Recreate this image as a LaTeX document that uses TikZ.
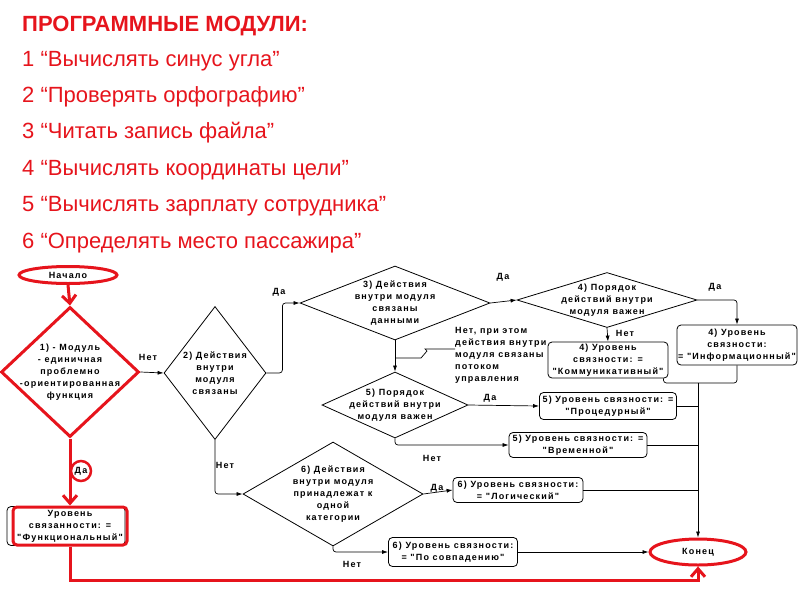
\documentclass[tikz,border=0pt]{standalone}
\usepackage{fontspec}
\setmainfont{Liberation Sans}
\newfontfamily\diafont[LetterSpace=13]{Liberation Sans}
\usetikzlibrary{shapes.geometric,arrows.meta}

\definecolor{modred}{RGB}{230,20,28}

\tikzset{
  dfont/.style={font=\diafont\bfseries\fontsize{9}{12}\selectfont},
  dia/.style={draw, shape=diamond, line width=0.8pt, inner sep=0pt},
  diatext/.style={dfont, align=center},
  resbox/.style={draw, rounded corners=4pt, line width=0.8pt, dfont, align=center, inner sep=1pt},
  term/.style={draw=modred, ellipse, line width=3pt, dfont, inner sep=0pt},
  line/.style={line width=0.7pt, rounded corners=3pt},
  arr/.style={line, -{Latex[length=6pt,width=4pt]}},
  redarr/.style={draw=modred, line width=3pt, -{Straight Barb[length=8pt,width=14pt]}},
  lbl/.style={dfont, inner sep=1pt},
  item/.style={anchor=base west, text=modred, font=\fontsize{22}{26}\selectfont, inner sep=0pt}
}

\begin{document}
\begin{tikzpicture}[x=1pt, y=-1pt]
    \useasboundingbox (0,0) rectangle (800,600);

    % Заголовок и список модулей
    \node[item, font=\fontsize{22}{26}\selectfont\bfseries] (title) at (22,31) {ПРОГРАММНЫЕ МОДУЛИ:};
    \node[item] (m1) at (22,66) {1 “Вычислять синус угла”};
    \node[item] (m2) at (22,102.4) {2 “Проверять орфографию”};
    \node[item] (m3) at (22,138.8) {3 “Читать запись файла”};
    \node[item] (m4) at (22,175.2) {4 “Вычислять координаты цели”};
    \node[item] (m5) at (22,211.6) {5 “Вычислять зарплату сотрудника”};
    \node[item] (m6) at (22,248) {6 “Определять место пассажира”};

    % Начало и конец
    \node[term, minimum width=98pt, minimum height=17pt] (start) at (68,275) {Начало};
    \node[term, minimum width=96pt, minimum height=26pt] (konec) at (698,552) {Конец};

    % Ромбы
    \node[dia, draw=modred, line width=3pt, minimum width=138pt, minimum height=130pt] (d1) at (70,372) {};
    \node[diatext] at (d1) {1) - Модуль\\- единичная\\проблемно\\-ориентированная\\функция};
    \node[dia, minimum width=102pt, minimum height=133pt] (d2) at (215,373) {};
    \node[diatext] at (d2) {2) Действия\\внутри\\модуля\\связаны};
    \node[dia, minimum width=190pt, minimum height=74pt] (d3) at (395,303) {};
    \node[diatext] at (d3) {3) Действия\\внутри модуля\\связаны\\данными};
    \node[dia, minimum width=180pt, minimum height=55pt] (d4) at (607,300) {};
    \node[diatext] at (d4) {4) Порядок\\действий внутри\\модуля важен};
    \node[dia, minimum width=146pt, minimum height=66pt] (d5) at (395,405) {};
    \node[diatext] at (d5) {5) Порядок\\действий внутри\\модуля важен};
    \node[dia, minimum width=180pt, minimum height=104pt] (d6) at (333,494) {};
    \node[diatext] at (d6) {6) Действия\\внутри модуля\\принадлежат к\\одной\\категории};

    % Уровни связности
    \node[resbox, minimum width=120pt, minimum height=36pt] (kom) at (608,360) {4) Уровень\\связности: =\\"Коммуникативный"};
    \node[resbox, minimum width=120pt, minimum height=40pt] (inf) at (737,345) {4) Уровень\\связности:\\= "Информационный"};
    \node[resbox, minimum width=137pt, minimum height=27pt] (proc) at (608,406) {5) Уровень связности: =\\"Процедурный"};
    \node[resbox, minimum width=138pt, minimum height=25pt] (vrem) at (578,445) {5) Уровень связности: =\\"Временной"};
    \node[resbox, minimum width=130pt, minimum height=25pt] (log) at (518,490) {6) Уровень связности:\\= "Логический"};
    \node[resbox, minimum width=129pt, minimum height=29pt] (sovp) at (453,552) {6) Уровень связности:\\= "По совпадению"};
    \node[resbox, minimum width=118pt, minimum height=39pt] (funcb) at (66,526) {};
    \node[resbox, draw=modred, line width=3pt, minimum width=114pt, minimum height=38pt] (func) at (70,526) {Уровень\\связанности: =\\"Функциональный"};

    % Переходы
    \draw[arr] (d1.east) -- (d2.west);
    \node[lbl] (n1) at (148,357) {Нет};
    \draw[arr] (d2.east) -- ++(16,0) |- (d3.west);
    \node[lbl] (y2) at (279,292) {Да};
    \draw[arr] (d3.east) -- (d4.west);
    \node[lbl] (y3) at (503,277) {Да};
    \draw[arr] (d4.east) -| (inf.north);
    \node[lbl] (y4) at (715,287) {Да};
    \draw[arr] (d4.south) -- (kom.north);
    \node[lbl] (n4) at (625,333) {Нет};
    \draw[arr] (d3.south) -- (d5.north);
    \draw[arr] (d5.east) -- (proc.west);
    \node[lbl] (y5) at (490,398) {Да};
    \draw[arr] (d5.south) |- (vrem.west);
    \node[lbl] (n5) at (432,458) {Нет};
    \draw[arr] (d2.south) |- (d6.west);
    \node[lbl] (n2) at (225,465) {Нет};
    \draw[arr] (d6.east) -- (log.west);
    \node[lbl] (y6) at (437,488) {Да};
    \draw[arr] (d6.south) |- (sovp.west);
    \node[lbl] (n6) at (352,564) {Нет};
    \draw[arr] (sovp.east) -- (konec.west);

    % Пояснение к ветке "Нет"
    \node[dfont, align=left, anchor=north west, inner sep=0pt] (note) at (455,327) {Нет, при этом\\действия внутри\\модуля связаны\\потоком\\управления};
    \coordinate (bend) at (421,358);
    \draw[line width=0.7pt] (d3.south |- bend) -- (bend) -- ++(6,-7) -- ++(-2,-2) -- (note.west |- 0,349);

    % Сбор в "Конец"
    \coordinate (bus) at (698,383);
    \draw[line] (inf.south) |- (bus);
    \draw[line] ([xshift=-5pt]kom.south east) |- (bus);
    \draw[line] (proc.east) -- (proc.east -| bus);
    \draw[line] (vrem.east) -- (vrem.east -| bus);
    \draw[line] (log.east) -- (log.east -| bus);
    \draw[arr] (bus) -- (konec.north);

    % Красный путь
    \draw[redarr] (start.south) -- (d1.north);
    \draw[redarr] (d1.south) -- (func.north);
    \node[lbl] (y1) at (81,471) {Да};
    \draw[modred, line width=2.5pt] (y1) circle (10pt);
    \coordinate (redrun) at (0,580);
    \draw[redarr] (func.south) |- (konec.south |- redrun) -- (konec.south);
\end{tikzpicture}
\end{document}
